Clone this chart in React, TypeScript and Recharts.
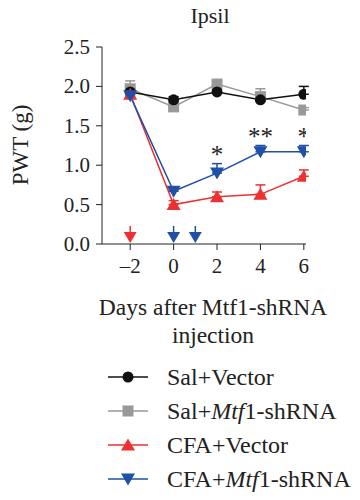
import React from "react";
import { ComposedChart, Line, Scatter, XAxis, YAxis, ErrorBar } from "recharts";

const days = [-2, 0, 2, 4, 6];
const salVector = [1.93, 1.83, 1.93, 1.83, 1.9];
const salVectorErr = [0.03, 0.04, 0.03, 0.03, 0.1];
const salShrna = [1.97, 1.74, 2.03, 1.87, 1.7];
const salShrnaErr = [0.1, 0.03, 0.03, 0.1, 0.03];
const cfaVector = [1.9, 0.5, 0.6, 0.63, 0.86];
const cfaVectorErr = [0.07, 0.05, 0.06, 0.12, 0.08];
const cfaShrna = [1.88, 0.67, 0.9, 1.17, 1.17];
const cfaShrnaErr = [0.03, 0.02, 0.12, 0.08, 0.08];
const sigMarks = ["", "", "*", "**", "*"];
const arrowDays = [-2, 0, 1];
const arrowColors = ["#ee3030", "#1f4fa6", "#1f4fa6"];
const yTicks = [0, 0.5, 1, 1.5, 2, 2.5];

const BLACK = "#111111";
const GRAY = "#999999";
const RED = "#ee3030";
const BLUE = "#1f4fa6";
const FONT = "'Liberation Serif', 'DejaVu Serif', serif";

const data = days.map((d, i) => ({
  day: d,
  salVector: salVector[i],
  salVectorErr: [0, salVectorErr[i]],
  salShrna: salShrna[i],
  salShrnaErr: [0, salShrnaErr[i]],
  cfaVector: cfaVector[i],
  cfaVectorErr: [0, cfaVectorErr[i]],
  cfaShrna: cfaShrna[i],
  cfaShrnaErr: [0, cfaShrnaErr[i]],
}));

// asterisks sit a bit above the top of the blue error bar
const sigData = days
  .map((d, i) => ({ day: d, y: cfaShrna[i] + cfaShrnaErr[i] + 0.12, mark: sigMarks[i] }))
  .filter((p) => p.mark !== "");

const arrowData = arrowDays.map((d, i) => ({ day: d, y: 0, color: arrowColors[i] }));

type Shape = "circle" | "square" | "up" | "down";

const marker = (shape: Shape, color: string, cx: number, cy: number, key?: any) => {
  if (shape === "circle") return <circle key={key} cx={cx} cy={cy} r={5.5} fill={color} />;
  if (shape === "square") return <rect key={key} x={cx - 5.5} y={cy - 5.5} width={11} height={11} fill={color} />;
  if (shape === "up")
    return <path key={key} d={`M${cx},${cy - 6.5} L${cx + 7},${cy + 5.5} L${cx - 7},${cy + 5.5} Z`} fill={color} />;
  return <path key={key} d={`M${cx},${cy + 6.5} L${cx + 7},${cy - 5.5} L${cx - 7},${cy - 5.5} Z`} fill={color} />;
};

const dotOf = (shape: Shape, color: string) => (p: any) => marker(shape, color, p.cx, p.cy, p.index);

const Arrow = (p: any) => {
  const { cx, cy } = p;
  const c = p.payload.color;
  return (
    <g>
      <line x1={cx} x2={cx} y1={cy - 18} y2={cy - 10} stroke={c} strokeWidth={1.5} />
      <path d={`M${cx - 6.5},${cy - 12} L${cx + 6.5},${cy - 12} L${cx},${cy - 1} Z`} fill={c} />
    </g>
  );
};

const Star = (p: any) => (
  <text x={p.cx} y={p.cy} textAnchor="middle" dominantBaseline="central" fontFamily={FONT} fontSize={25} fill="#222">
    {p.payload.mark}
  </text>
);

const XTick = (p: any) => {
  const v = p.payload.value;
  const label = v < 0 ? "\u2013" + Math.abs(v) : String(v);
  return (
    <text x={p.x} y={p.y + 14} textAnchor="middle" dominantBaseline="central" fontFamily={FONT} fontSize={21} fill="#222">
      {label}
    </text>
  );
};

const YTick = (p: any) => (
  <text x={p.x - 4} y={p.y} textAnchor="end" dominantBaseline="central" fontFamily={FONT} fontSize={21} fill="#222">
    {Number(p.payload.value).toFixed(1)}
  </text>
);

const series = [
  { key: "salVector", name: "Sal+Vector", color: BLACK, shape: "circle" as Shape, italic: "" },
  { key: "salShrna", name: "Sal+", color: GRAY, shape: "square" as Shape, italic: "Mtf" },
  { key: "cfaVector", name: "CFA+Vector", color: RED, shape: "up" as Shape, italic: "" },
  { key: "cfaShrna", name: "CFA+", color: BLUE, shape: "down" as Shape, italic: "Mtf" },
];

const drawOrder = [1, 0, 2, 3];

export default function App() {
  return (
    <div style={{ position: "absolute", left: 0, top: 0, width: 360, height: 500, background: "#fff" }}>
      <ComposedChart width={360} height={500} data={data} margin={{ top: 47, right: 54, left: 0, bottom: 226 }}>
        <XAxis
          dataKey="day"
          type="number"
          domain={[-3.3, 6.1]}
          ticks={days}
          tick={XTick}
          tickSize={6}
          height={30}
          stroke="#222"
          allowDataOverflow
        />
        <YAxis
          type="number"
          domain={[0, 2.5]}
          ticks={yTicks}
          tick={YTick}
          tickSize={6}
          width={102}
          stroke="#222"
        />
        {drawOrder.map((i) => {
          const s = series[i];
          return (
            <Line
              key={s.key}
              dataKey={s.key}
              type="linear"
              stroke={s.color}
              strokeWidth={1.5}
              dot={dotOf(s.shape, s.color)}
              activeDot={false}
              isAnimationActive={false}
            >
              <ErrorBar dataKey={s.key + "Err"} direction="y" width={5} stroke={s.color} strokeWidth={1.5} />
            </Line>
          );
        })}
        <Scatter data={arrowData} dataKey="y" shape={Arrow} isAnimationActive={false} />
        <Scatter data={sigData} dataKey="y" shape={Star} isAnimationActive={false} />
      </ComposedChart>
      <svg width={360} height={500} style={{ position: "absolute", left: 0, top: 0, pointerEvents: "none" }}>
        <text x={210} y={15} textAnchor="middle" dominantBaseline="central" fontFamily={FONT} fontSize={22} fill="#222">
          Ipsil
        </text>
        <text
          x={20}
          y={145}
          transform="rotate(-90 20 145)"
          textAnchor="middle"
          dominantBaseline="central"
          fontFamily={FONT}
          fontSize={23}
          fill="#222"
        >
          PWT (g)
        </text>
        <text x={213} y={307} textAnchor="middle" dominantBaseline="central" fontFamily={FONT} fontSize={23.5} fill="#222">
          Days after Mtf1-shRNA
        </text>
        <text x={213} y={335} textAnchor="middle" dominantBaseline="central" fontFamily={FONT} fontSize={23.5} fill="#222">
          injection
        </text>
        {series.map((s, i) => {
          const y = 377 + i * 34;
          return (
            <g key={s.key}>
              <line x1={108} x2={148} y1={y} y2={y} stroke={s.color} strokeWidth={1.5} />
              {marker(s.shape, s.color, 128, y)}
              <text x={167} y={y} dominantBaseline="central" fontFamily={FONT} fontSize={24} fill="#222">
                {s.name}
                {s.italic && <tspan fontStyle="italic">{s.italic}</tspan>}
                {s.italic && "1-shRNA"}
              </text>
            </g>
          );
        })}
      </svg>
    </div>
  );
}
